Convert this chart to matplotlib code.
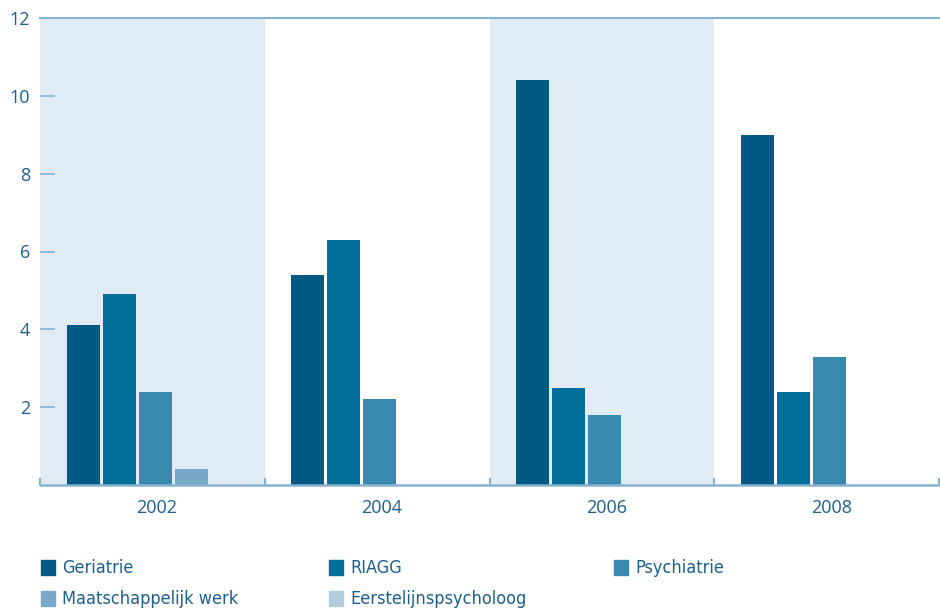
import matplotlib.pyplot as plt
import numpy as np
from matplotlib.patches import Rectangle

years = ["2002", "2004", "2006", "2008"]
series = ["Geriatrie", "RIAGG", "Psychiatrie", "Maatschappelijk werk", "Eerstelijnspsycholoog"]
geriatrie = [4.1, 5.4, 10.4, 9.0]
riagg = [4.9, 6.3, 2.5, 2.4]
psychiatrie = [2.4, 2.2, 1.8, 3.3]
maatschappelijk = [0.4, 0, 0, 0]
eerstelijns = [0, 0, 0, 0]
colors = ["#005a84", "#006e98", "#3a8ab0", "#78a9c9", "#b3cde0"]

values = [geriatrie, riagg, psychiatrie, maatschappelijk, eerstelijns]
axis_col = "#86b3d1"
text_col = "#1d5e8a"

fig = plt.figure(figsize=(9.4, 6.09), dpi=100)
ax = fig.add_axes([40 / 940, 1 - 485 / 609, 899 / 940, 467 / 609])

# shaded bands for alternate years
for i in range(0, len(years), 2):
    ax.axvspan(i, i + 1, color="#e0ebf3", lw=0, zorder=0)

x = np.arange(len(years)) + 0.5
slot = 0.16
for k, (name, vals, c) in enumerate(zip(series, values, colors)):
    ax.bar(x + 0.012 + (k - 2) * slot, vals, width=0.147, color=c, label=name, zorder=2)

ax.set_xlim(0, len(years))
ax.set_ylim(0, 12)

for s in ["left", "right"]:
    ax.spines[s].set_visible(False)
ax.spines["bottom"].set_color(axis_col)
ax.spines["bottom"].set_linewidth(1.8)
ax.spines["top"].set_color(axis_col)
ax.spines["top"].set_linewidth(1.5)

ax.set_yticks([2, 4, 6, 8, 10, 12])
ax.set_yticklabels(["2", "4", "6", "8", "10", "12"])
ax.tick_params(axis="y", direction="in", length=11, width=1.2, color=axis_col,
               labelcolor=text_col, labelsize=13, pad=7)
for t in ax.get_yticklabels():
    t.set_fontfamily("Open Sans")

ax.set_xticks(x + 0.02)
ax.set_xticklabels(years)
ax.set_xticks(np.arange(len(years) + 1), minor=True)
ax.tick_params(axis="x", which="major", length=0, labelcolor=text_col, labelsize=13, pad=10)
ax.tick_params(axis="x", which="minor", direction="in", length=5, width=1.5, color=axis_col)
for t in ax.get_xticklabels():
    t.set_fontfamily("Open Sans")

# legend laid out in a grid below the plot
leg_x = [41, 329, 614]
leg_y = [568, 599]
for k, (name, c) in enumerate(zip(series, colors)):
    col, row = k % 3, k // 3
    px, py = leg_x[col], leg_y[row]
    fig.patches.append(Rectangle((px / 940, 1 - (py + 7) / 609), 14 / 940, 15 / 609,
                                 transform=fig.transFigure, color=c, figure=fig))
    fig.text((px + 21) / 940, 1 - py / 609, name, ha="left", va="center",
             fontsize=13, color=text_col, family="DejaVu Sans", fontstretch="condensed")

fig.savefig("out.png", dpi=100)
